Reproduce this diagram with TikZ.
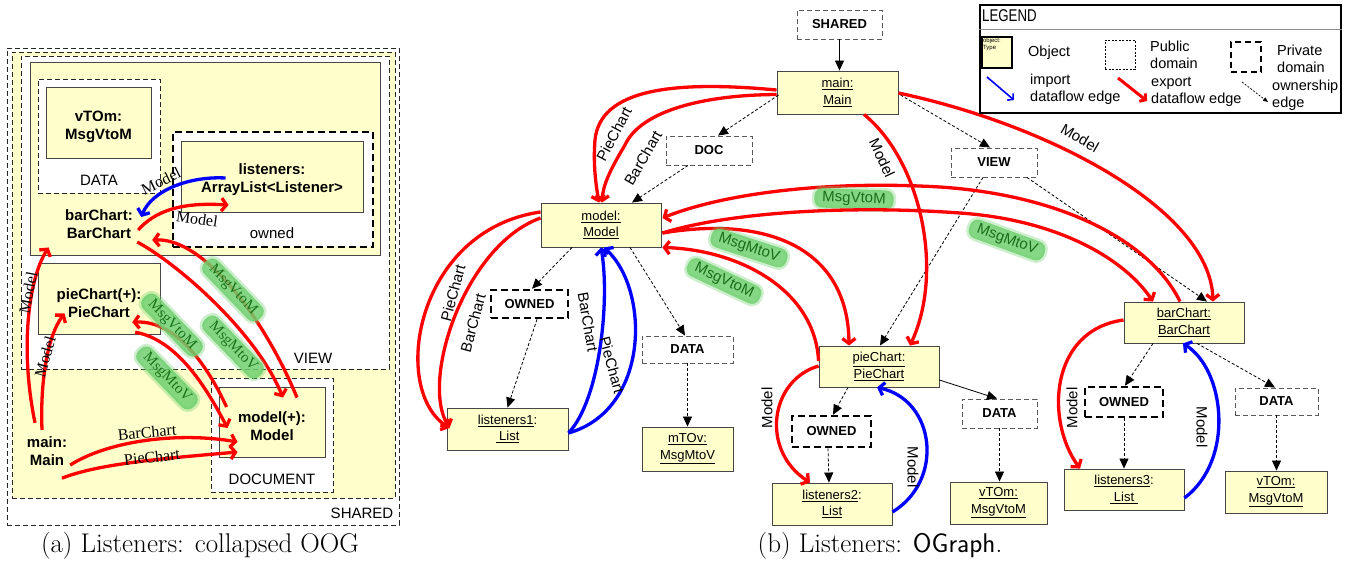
\documentclass[tikz,border=0pt]{standalone}
\usepackage{fontspec}
\newfontfamily\lsans{Liberation Sans}
\newfontfamily\lserif{Liberation Serif}
\usetikzlibrary{arrows.meta}
\definecolor{objyel}{RGB}{255,255,204}
\definecolor{bubg}{RGB}{112,208,112}
\definecolor{gtxt}{RGB}{25,110,25}
\definecolor{lgtxt}{RGB}{25,115,25}
\definecolor{boxgray}{RGB}{70,70,70}
\definecolor{dgray}{RGB}{90,90,90}
\begin{document}
\begin{tikzpicture}[x=1pt, y=-1pt,
 sz/.style 2 args={minimum width=#1, minimum height=#2},
 obj/.style={draw=boxgray, fill=objyel, line width=0.9pt, inner sep=0pt, align=center, font=\lsans\fontsize{13}{16.5}\selectfont},
 objL/.style={draw=boxgray, fill=objyel, line width=0.9pt, inner sep=0pt},
 pubd/.style={draw=dgray, dash pattern=on 5pt off 3pt, line width=0.9pt, fill=white, inner sep=0pt, font=\lsans\bfseries\fontsize{13}{15}\selectfont},
 privd/.style={draw=black, dash pattern=on 7pt off 4pt, line width=2.6pt, fill=white, inner sep=0pt, font=\lsans\bfseries\fontsize{13}{15}\selectfont},
 dom/.style={draw=black!85, dash pattern=on 5pt off 3pt, line width=0.9pt, inner sep=0pt},
 txtB/.style={inner sep=0pt, align=center, font=\lsans\bfseries\fontsize{15}{18}\selectfont},
 txtR/.style={inner sep=0pt, font=\lsans\fontsize{15}{18}\selectfont},
 own/.style={draw=black, line width=0.8pt, dash pattern=on 3pt off 2pt, -{Triangle[length=10pt,width=9pt]}},
 ownS/.style={draw=black, line width=0.8pt, -{Triangle[length=10pt,width=9pt]}},
 rflow/.style={draw=red, line width=3.3pt, -{Straight Barb[length=5pt,width=13pt]}},
 bflow/.style={draw=blue, line width=3.3pt, -{Straight Barb[length=5pt,width=13pt]}},
 elab/.style={inner sep=1pt, font=\lsans\fontsize{15}{17}\selectfont},
 elabL/.style={inner sep=1pt, font=\lserif\fontsize{16}{18}\selectfont},
 glab/.style={fill=bubg, fill opacity=0.85, text opacity=1, text=gtxt, rounded corners=8pt, inner xsep=8pt, inner ysep=3pt, font=\lsans\fontsize{15}{17}\selectfont, preaction={draw=bubg, line width=5pt, draw opacity=0.35}},
 glabL/.style={glab, text=lgtxt, font=\lserif\fontsize{15}{17}\selectfont},
 legt/.style={inner sep=0pt, align=left, anchor=west, font=\lsans\fontsize{14.5}{17}\selectfont},
]
\useasboundingbox (0,0) rectangle (1353,563);

% ================= LEFT PANEL =================
\node[dom, fill=white, sz={392}{477}] (sharedA) at (203,286.5) {};
\node[dom, fill=objyel, sz={383}{446}] (yelA) at (203.5,275) {};
\node[dom, fill=white, sz={368}{313}] (viewA) at (205,212.5) {};
\node[objL, sz={350}{193}] (barA) at (205,158.5) {};
\node[dom, fill=white, sz={122}{114}] (dataA) at (99,136) {};
\node[objL, sz={105}{71}] (vtomA) at (98.5,122.5) {};
\node[txtB] (vtomT) at (98.5,127) {vTOm:\\MsgVtoM};
\node[privd, sz={200}{115}] (ownedA) at (273,189.5) {};
\node[objL, sz={182}{71}] (lisA) at (272,176.5) {};
\node[txtB] (lisT) at (272,180) {listeners:\\ArrayList<Listener>};
\node[objL, sz={122}{71}] (pieA) at (99,298.5) {};
\node[dom, fill=white, sz={122}{114}] (docA) at (272,435) {};
\node[objL, sz={106}{70}] (modelA) at (272,422) {};
\node[txtB] (modelT) at (272,426) {model(+):\\Model};
\node[txtR] (sharedAL) at (362,513) {SHARED};
\node[txtR] (viewAL) at (313,358) {VIEW};
\node[txtR] (dataAL) at (99,180) {DATA};
\node[txtR] (ownedAL) at (272,233) {owned};
\node[txtR] (docAL) at (272,479) {DOCUMENT};
\node[txtB, sz={72}{40}] (barT) at (99,224) {barChart:\\BarChart};
\node[txtB, sz={88}{40}] (pieT) at (99,303) {pieChart(+):\\PieChart};
\node[txtB, sz={60}{40}] (mainT) at (47,451) {main:\\Main};

% left edges
\draw[bflow] ([shift={(45,1.5)}]lisA.west) .. controls (190,176) and (152,190) .. ([shift={(6,-7)}]barT.east)
  node[elabL, at={(161,181)}, rotate=26] {Model};
\draw[rflow] ([shift={(3,6)}]barT.east) .. controls (160,205) and (195,203) .. ([shift={(48,28.5)}]lisA.west)
  node[elabL, at={(197,219)}, rotate=-8] {Model};
\draw[rflow] ([shift={(25,11)}]modelA.north) .. controls (265,320) and (205,238) .. ([shift={(17,16)}]barT.east)
  node[glabL, at={(233,290)}, rotate=-46] {MsgVtoM};
\draw[rflow] ([shift={(2,18)}]barT.east) .. controls (175,262) and (255,330) .. ([shift={(11,11)}]modelA.north)
  node[glabL, at={(233,347)}, rotate=-46] {MsgMtoV};
\draw[rflow] ([shift={(-8,9)}]pieT.south east) .. controls (180,340) and (210,395) .. ([shift={(9,6)}]modelA.west)
  node[glabL, at={(167,378)}, rotate=-46] {MsgMtoV};
\draw[rflow] ([shift={(8,-15)}]modelA.west) .. controls (212,375) and (180,320) .. ([shift={(-11,-1)}]pieT.south east)
  node[glabL, at={(172,325)}, rotate=-46] {MsgVtoM};
\draw[rflow] ([shift={(-12,-8)}]mainT.north) .. controls (20,350) and (28,280) .. ([shift={(19,-8)}]barA.south west)
  node[elabL, at={(28,293)}, rotate=79] {Model};
\draw[rflow] ([shift={(-5,-1)}]mainT.north) .. controls (40,380) and (48,335) .. ([shift={(27,-21)}]pieA.south west)
  node[elabL, at={(45,357)}, rotate=74] {Model};
\draw[rflow] ([shift={(-7,14)}]mainT.east) .. controls (110,440) and (180,432) .. ([shift={(19,20)}]modelA.west)
  node[elabL, at={(147,432)}, rotate=5] {BarChart};
\draw[rflow] ([shift={(15,7)}]mainT.south) .. controls (100,463) and (170,458) .. ([shift={(19,30)}]modelA.west)
  node[elabL, at={(152,457)}, rotate=6] {PieChart};

% ================= RIGHT PANEL =================
\node[pubd, sz={85}{29}] (shared) at (839.5,24.5) {SHARED};
\node[obj, sz={121}{43}] (main) at (837.5,92.5) {\underline{main:}\\\underline{Main}};
\node[pubd, sz={86}{29}] (doc) at (709,150.5) {DOC};
\node[pubd, sz={86}{29}] (view) at (994,162.5) {VIEW};
\node[obj, sz={120}{44}] (model) at (601,225) {\underline{model:}\\\underline{Model}};
\node[privd, sz={77}{28}] (own1) at (529.5,304) {OWNED};
\node[pubd, sz={91}{27}] (data1) at (687.5,349.5) {DATA};
\node[obj, sz={121}{42}] (lis1) at (507.5,429) {\underline{listeners1}:\\\underline{\ List}};
\node[obj, sz={91}{44}] (mtov) at (687.5,449) {\underline{mTOv:}\\\underline{MsgMtoV}};
\node[obj, sz={120}{41}] (pie) at (879,366.5) {\underline{pieChart:}\\\underline{PieChart}};
\node[privd, sz={79}{31}] (own2) at (831.5,431.5) {OWNED};
\node[obj, sz={120}{42}] (lis2) at (832,504) {\underline{listeners2}:\\\underline{List}};
\node[pubd, sz={75}{29}] (data2) at (999.5,413.5) {DATA};
\node[obj, sz={97}{42}] (vtom2) at (998.5,503) {\underline{vTOm:}\\\underline{MsgVtoM}};
\node[obj, sz={120}{41}] (bar) at (1184,322.5) {\underline{barChart:}\\\underline{BarChart}};
\node[privd, sz={78}{30}] (own3) at (1124,402) {OWNED};
\node[pubd, sz={83}{27}] (data3) at (1276.5,401.5) {DATA};
\node[obj, sz={120}{41}] (lis3) at (1124,489.5) {\underline{listeners3}:\\\underline{\ List\ }};
\node[obj, sz={102}{42}] (vtom3) at (1276,492) {\underline{vTOm:}\\\underline{MsgVtoM}};

% ownership edges
\draw[ownS] (shared.south) -- (shared.south |- main.north);
\draw[own] ([shift={(2,2.5)}]main.west) -- ([shift={(9,0)}]doc.north);
\draw[own] ([shift={(-21,0)}]doc.south) -- ([shift={(31,0)}]model.north);
\draw[own] ([shift={(2,2.5)}]main.east) -- ([shift={(-4,0)}]view.north);
\draw[own] ([shift={(-11,0)}]view.south) -- ([shift={(1,0)}]pie.north);
\draw[own] ([shift={(33,0)}]view.south) -- ([shift={(23,0)}]bar.north);
\draw[own] ([shift={(-29,0)}]model.south) -- ([shift={(2.5,0)}]own1.north);
\draw[own] ([shift={(7.5,0)}]own1.south) -- (lis1.north);
\draw[own] ([shift={(29,0)}]model.south) -- ([shift={(-2.5,0)}]data1.north);
\draw[own] (data1.south) -- (mtov.north);
\draw[own] ([shift={(-31,0)}]pie.south) -- ([shift={(1.5,0)}]own2.north);
\draw[own] ([shift={(-3.5,0)}]own2.south) -- ([shift={(-3,0)}]lis2.north);
\draw[ownS] ([shift={(0,13.5)}]pie.east) -- ([shift={(-2.5,0)}]data2.north);
\draw[own] (data2.south) -- (data2.south |- vtom2.north);
\draw[own] ([shift={(-31,0)}]bar.south) -- ([shift={(1,0)}]own3.north);
\draw[own] (own3.south) -- (own3.south |- lis3.north);
\draw[own] ([shift={(13,0)}]bar.south) -- ([shift={(-1.5,0)}]data3.north);
\draw[own] (data3.south) -- (data3.south |- vtom3.north);

% dataflow edges
\draw[rflow] ([shift={(0,-2.5)}]main.west) .. controls (670,80) and (600,90) .. (595,140)
  .. controls (593,165) and (596,185) .. ([shift={(-2,0)}]model.north)
  node[elab, at={(614,134)}, rotate=62] {PieChart};
\draw[rflow] ([shift={(0,2)}]main.west) .. controls (700,95) and (640,112) .. (625,145)
  .. controls (610,170) and (603,185) .. ([shift={(1,0)}]model.north)
  node[elab, at={(643,158)}, rotate=60] {BarChart};
\draw[rflow] ([shift={(26.5,0)}]main.south) .. controls (920,160) and (945,270) .. ([shift={(31,0)}]pie.north)
  node[elab, at={(882,158)}, rotate=-65] {Model};
\draw[rflow] ([shift={(0,0.5)}]main.east) .. controls (1050,125) and (1210,210) .. ([shift={(29,0)}]bar.north)
  node[elab, at={(1080,138)}, rotate=-30] {Model};
\draw[rflow] ([shift={(-4,0)}]bar.north) .. controls (1150,240) and (1060,195) .. (940,187)
  .. controls (820,180) and (720,195) .. ([shift={(1,-7)}]model.east)
  node[glab, at={(854,199)}, rotate=-2] {MsgVtoM};
\draw[rflow] ([shift={(1,8)}]model.east) .. controls (730,212) and (850,205) .. (960,213)
  .. controls (1060,220) and (1125,260) .. ([shift={(-31,0)}]bar.north)
  node[glab, at={(1007,240)}, rotate=-20] {MsgMtoV};
\draw[rflow] ([shift={(1,8)}]model.east) .. controls (770,215) and (848,250) .. ([shift={(-30,0)}]pie.north)
  node[glab, at={(749,248)}, rotate=-18] {MsgMtoV};
\draw[rflow] ([shift={(0,-5.5)}]pie.west) .. controls (815,290) and (740,250) .. ([shift={(1,0)}]model.south east)
  node[glab, at={(724,281)}, rotate=-25] {MsgVtoM};
\draw[rflow] ([shift={(0,-0.5)}]pie.west) .. controls (770,380) and (760,450) .. ([shift={(-22,0)}]lis2.north)
  node[elab, at={(767,408)}, rotate=90] {Model};
\draw[bflow] ([shift={(0,8)}]lis2.east) .. controls (945,480) and (935,400) .. ([shift={(-2,0)}]pie.south)
  node[elab, at={(913,467)}, rotate=-90] {Model};
\draw[rflow] ([shift={(0,-2.5)}]bar.west) .. controls (1050,330) and (1045,420) .. ([shift={(-44,0)}]lis3.north)
  node[elab, at={(1072,408)}, rotate=90] {Model};
\draw[bflow] ([shift={(0,8.5)}]lis3.east) .. controls (1235,460) and (1225,370) .. ([shift={(-1,0)}]bar.south)
  node[elab, at={(1202,427)}, rotate=-90] {Model};
\draw[rflow] ([shift={(0,-13)}]model.west) .. controls (415,230) and (390,390) .. ([shift={(3,-1)}]lis1.west)
  node[elab, at={(453,293)}, rotate=75] {PieChart};
\draw[rflow] ([shift={(0,-7)}]model.west) .. controls (465,245) and (420,380) .. ([shift={(3,-1)}]lis1.west)
  node[elab, at={(473,323)}, rotate=75] {BarChart};
\draw[bflow] ([shift={(0,4)}]lis1.east) .. controls (600,400) and (610,300) .. (model.south)
  node[elab, at={(588,322)}, rotate=-80] {BarChart};
\draw[bflow] ([shift={(0,4)}]lis1.east) .. controls (650,410) and (650,290) .. ([shift={(3,0)}]model.south)
  node[elab, at={(612,365)}, rotate=-75] {PieChart};

% ================= LEGEND =================
\node[draw=black, line width=1.5pt, sz={361}{108}, inner sep=0pt] (legend) at (1160.5,59) {};
\coordinate (sepy) at (0,29);
\draw[black!45, line width=0.8pt] (legend.west |- sepy) -- (legend.east |- sepy);
\node[anchor=west, inner sep=0pt, font=\lsans\fontsize{17}{19}\selectfont, xscale=0.78] (legT) at (982,16) {LEGEND};
\node[fill=objyel, draw=black, line width=1.2pt, sz={30}{31}, inner sep=0pt] (legObj) at (997,52.5) {};
\node[anchor=north west, inner sep=1.5pt, align=left, font=\lsans\fontsize{6}{7}\selectfont] (legObjT) at (legObj.north west) {object:\\Type};
\node[legt] (legObjL) at (1028,53) {Object};
\node[draw=black, dash pattern=on 2pt off 1.5pt, line width=1pt, sz={30}{29}, inner sep=0pt] (legPub) at (1120,54.5) {};
\node[legt] (legPubL) at (1150,55) {Public\\domain};
\node[draw=black, dash pattern=on 6pt off 4pt, line width=2.6pt, sz={30}{30}, inner sep=0pt] (legPriv) at (1246,57) {};
\node[legt] (legPrivL) at (1277,59) {Private\\domain};
\coordinate (lb1) at (987,77); \coordinate (lb2) at (1014,100);
\draw[blue, line width=1.6pt, -{Straight Barb[length=4pt,width=9pt]}] (lb1) -- (lb2);
\node[legt] (legImp) at (1030,89) {import\\dataflow edge};
\coordinate (lr1) at (1118,78); \coordinate (lr2) at (1147,101);
\draw[red, line width=3pt, -{Straight Barb[length=4pt,width=10pt]}] (lr1) -- (lr2);
\node[legt] (legExp) at (1151,92) {export\\dataflow edge};
\coordinate (lo1) at (1242,82); \coordinate (lo2) at (1268,102);
\draw[black, line width=0.7pt, dash pattern=on 2pt off 1.5pt, -{Triangle[length=5pt,width=4pt]}] (lo1) -- (lo2);
\node[legt] (legOwn) at (1272,95) {ownership\\edge};

% ================= CAPTIONS =================
\node[inner sep=0pt, font=\fontsize{27}{31}\selectfont] (capA) at (200,546) {(a) Listeners: collapsed OOG};
\node[inner sep=0pt, font=\fontsize{27}{31}\selectfont] (capB) at (880,546) {(b) Listeners: \textsf{OGraph}.};
\end{tikzpicture}
\end{document}
